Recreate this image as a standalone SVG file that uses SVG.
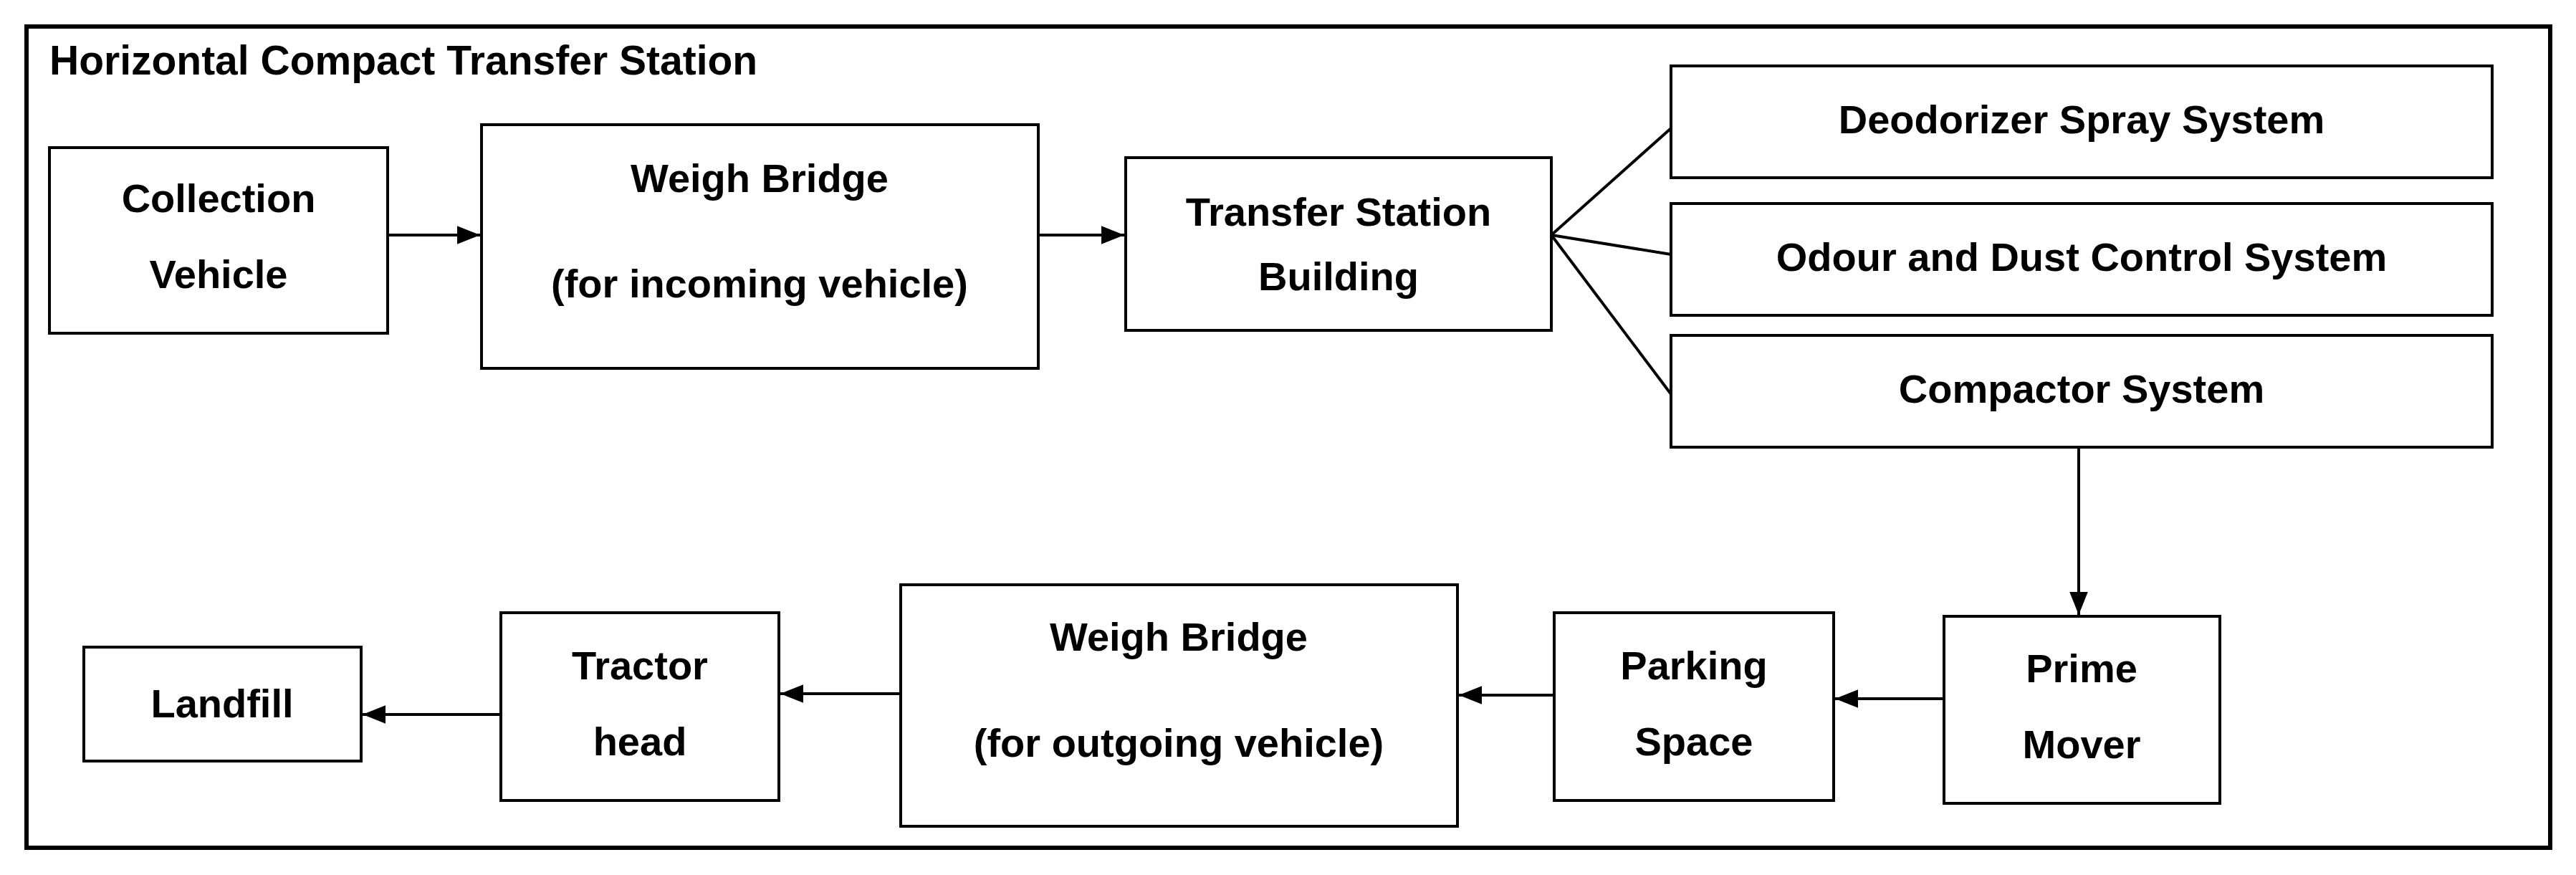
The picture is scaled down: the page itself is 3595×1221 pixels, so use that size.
<svg xmlns="http://www.w3.org/2000/svg" width="3595" height="1221" viewBox="0 0 3595 1221">
<style>
.b{fill:#fff;stroke:#000;stroke-width:4}
.t{font-family:"Liberation Sans",Arial,sans-serif;font-weight:bold;font-size:56px;text-anchor:middle;fill:#000}
.c{stroke:#000;stroke-width:4;fill:none}
</style>
<defs>
<marker id="m" viewBox="0 0 10 10" refX="10" refY="5" markerWidth="32" markerHeight="32" markerUnits="userSpaceOnUse" orient="auto"><path d="M0,1L10,5L0,9z"/></marker></defs>
<rect width="3595" height="1221" fill="#fff"/>
<rect x="37" y="37" width="3522" height="1146" fill="none" stroke="#000" stroke-width="6"/>
<text x="69" y="104" style="font-family:'Liberation Sans',Arial,sans-serif;font-weight:bold;font-size:57px">Horizontal Compact Transfer Station</text>
<g id="collection"><rect class="b" x="69" y="206" width="472" height="259"/><text class="t" x="305" y="296">Collection</text><text class="t" x="305" y="402">Vehicle</text></g>
<g id="wb-in"><rect class="b" x="672" y="174" width="777" height="340"/><text class="t" x="1060" y="268">Weigh Bridge</text><text class="t" x="1060" y="415">(for incoming vehicle)</text></g>
<g id="tsb"><rect class="b" x="1571" y="220" width="594" height="241"/><text class="t" x="1868" y="315">Transfer Station</text><text class="t" x="1868" y="405">Building</text></g>
<g id="deo"><rect class="b" x="2332" y="92" width="1146" height="156"/><text class="t" x="2905" y="186">Deodorizer Spray System</text></g>
<g id="odour"><rect class="b" x="2332" y="284" width="1146" height="156"/><text class="t" x="2905" y="378">Odour and Dust Control System</text></g>
<g id="compactor"><rect class="b" x="2332" y="468" width="1146" height="156"/><text class="t" x="2905" y="562">Compactor System</text></g>
<g id="prime"><rect class="b" x="2713" y="860" width="385" height="261"/><text class="t" x="2905" y="952">Prime</text><text class="t" x="2905" y="1058">Mover</text></g>
<g id="parking"><rect class="b" x="2169" y="855" width="390" height="262"/><text class="t" x="2364" y="948">Parking</text><text class="t" x="2364" y="1054">Space</text></g>
<g id="wb-out"><rect class="b" x="1257" y="816" width="777" height="337"/><text class="t" x="1645" y="908">Weigh Bridge</text><text class="t" x="1645" y="1056">(for outgoing vehicle)</text></g>
<g id="tractor"><rect class="b" x="699" y="855" width="388" height="262"/><text class="t" x="893" y="948">Tractor</text><text class="t" x="893" y="1054">head</text></g>
<g id="landfill"><rect class="b" x="117" y="903" width="387" height="159"/><text class="t" x="310" y="1001">Landfill</text></g>
<g id="connectors">
<line class="c" x1="541" y1="328" x2="670" y2="328" marker-end="url(#m)"/>
<line class="c" x1="1449" y1="328" x2="1569" y2="328" marker-end="url(#m)"/>
<line class="c" x1="2165" y1="328" x2="2332" y2="179"/>
<line class="c" x1="2165" y1="328" x2="2332" y2="355"/>
<line class="c" x1="2165" y1="328" x2="2332" y2="550"/>
<line class="c" x1="2901" y1="624" x2="2901" y2="858" marker-end="url(#m)"/>
<line class="c" x1="2713" y1="975" x2="2561" y2="975" marker-end="url(#m)"/>
<line class="c" x1="2169" y1="970" x2="2036" y2="970" marker-end="url(#m)"/>
<line class="c" x1="1257" y1="968" x2="1089" y2="968" marker-end="url(#m)"/>
<line class="c" x1="699" y1="997" x2="506" y2="997" marker-end="url(#m)"/>
</g>
</svg>
